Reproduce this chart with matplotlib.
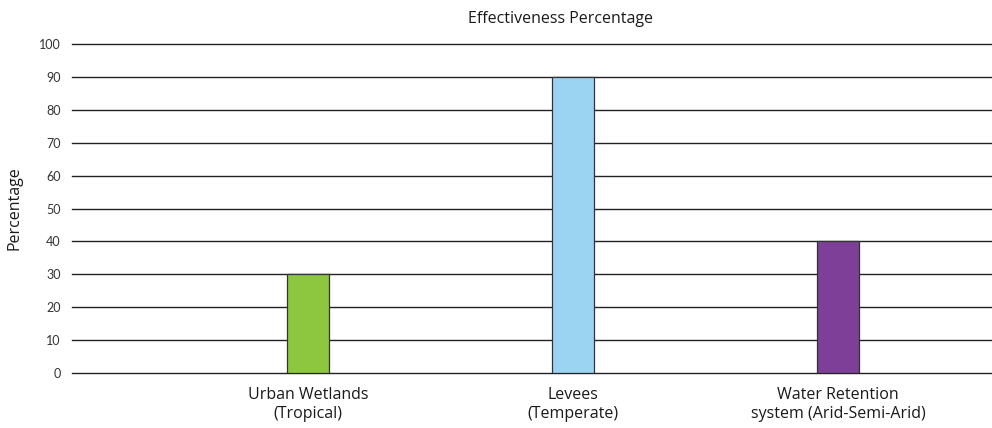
import matplotlib
matplotlib.use("Agg")
import matplotlib.pyplot as plt

categories = ["Urban Wetlands\n(Tropical)", "Levees\n(Temperate)", "Water Retention\nsystem (Arid-Semi-Arid)"]
values = [30, 90, 40]
colors = ["#8DC63F", "#9BD3F2", "#7E3F98"]
yticks = [0, 10, 20, 30, 40, 50, 60, 70, 80, 90, 100]

plt.rcParams['font.family'] = ['Open Sans', 'DejaVu Sans']

fig = plt.figure(figsize=(9.92, 4.28), dpi=100)
ax = fig.add_axes([0.0726, 0.1285, 0.9274, 0.7685])

x = list(range(len(categories)))
ax.bar(x, values, width=0.16, color=colors, edgecolor="#333333", linewidth=0.9, zorder=3)

ax.set_ylim(0, 100)
ax.set_xlim(-0.89, 2.58)
ax.set_yticks(yticks)
ax.set_yticklabels([str(t) for t in yticks], fontsize=9, color="#333333", family=['Lato', 'DejaVu Sans'])
ax.yaxis.grid(True, color="#222222", linewidth=1.0, zorder=0)
for gl in ax.get_ygridlines():
    gl.set_clip_on(False)
ax.set_axisbelow(True)
ax.tick_params(axis='y', length=0, pad=8)
ax.tick_params(axis='x', length=0, pad=10)
ax.set_xticks(x)
ax.set_xticklabels(categories, fontsize=11.5, color="#1a1a1a", linespacing=1.3)
for s in ax.spines.values():
    s.set_visible(False)

ax.set_ylabel("Percentage", fontsize=11.5, color="#1a1a1a", labelpad=12)
fig.text(0.565, 0.955, "Effectiveness Percentage", ha="center", va="center", fontsize=11.5, color="#1a1a1a")

fig.savefig("out.png", dpi=100)
